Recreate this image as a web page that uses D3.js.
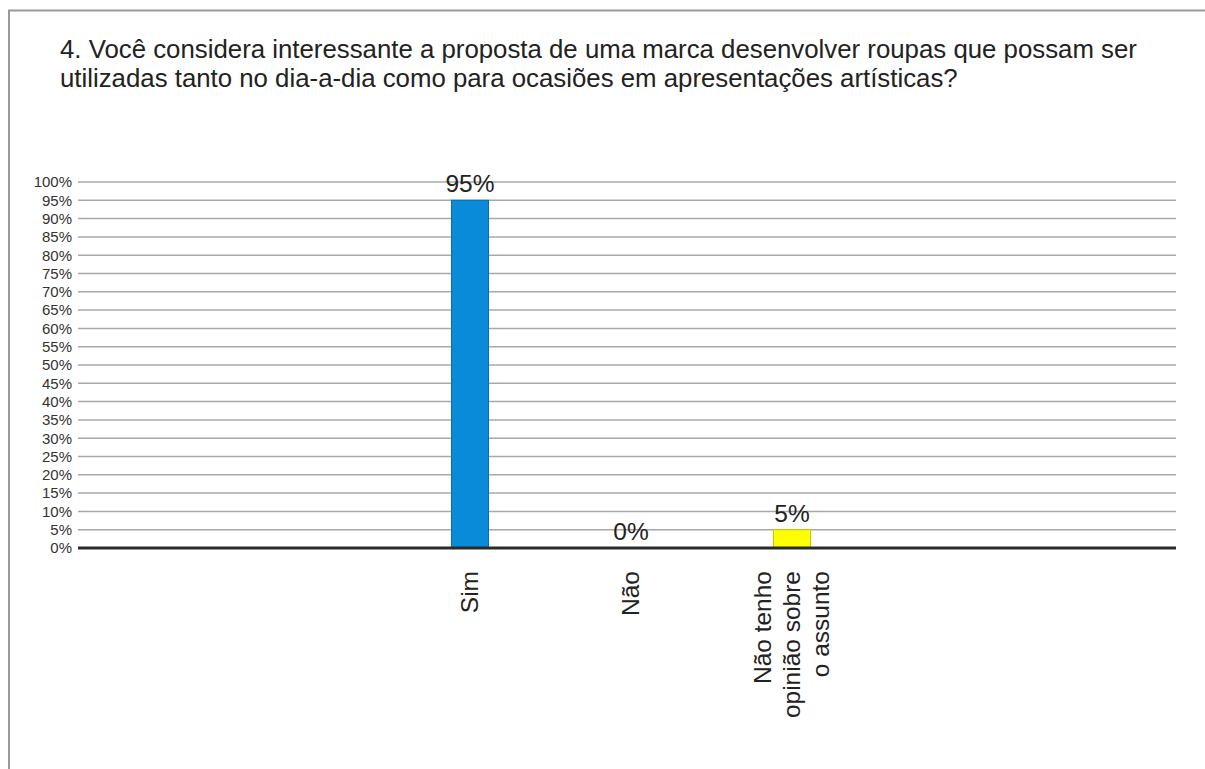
<!DOCTYPE html>
<html lang="pt">
	<head>
		<meta charset="utf-8">
		<title>Pergunta 4</title>
		<script type="text/javascript" src="https://cdn.jsdelivr.net/npm/d3@7"></script>
		<style type="text/css">
		body{
			margin: 0;
			background-color: #ffffff;
		}
		svg{
			display: block;
			font-family: "Liberation Sans", Arial, sans-serif;
		}
		</style>
	</head>
	<body>
		<div id="chart"></div>
		<script type="text/javascript">

			// dados
			var titleLines = ["4. Você considera interessante a proposta de uma marca desenvolver roupas que possam ser",
							  "utilizadas tanto no dia-a-dia como para ocasiões em apresentações artísticas?"];
			var categories = ["Sim", "Não", "Não tenho\nopinião sobre\no assunto"];
			var values = [0.95, 0, 0.05];
			var barColors = ["#0a8bd9", "#ffffff", "#ffff00"];
			var tickValues = d3.range(0, 1.0001, 0.05);

			var w = 1205;
			var h = 769;

			var svg = d3.select("#chart")
						.append("svg")
						.attr("width", w)
						.attr("height", h);

			// moldura (só topo e esquerda aparecem)
			svg.append("path")
			   .attr("d", "M9," + h + "V10.5H" + w)
			   .attr("fill", "none")
			   .attr("stroke", "#9a9a9a")
			   .attr("stroke-width", 2);

			// título
			svg.append("text")
			   .attr("x", 60)
			   .attr("y", 58)
			   .attr("font-size", "25.8px")
			   .attr("fill", "#222")
			   .selectAll("tspan")
			   .data(titleLines)
			   .enter()
			   .append("tspan")
			   .attr("x", 60)
			   .attr("dy", function(d, i) { return i === 0 ? 0 : 29; })
			   .text(function(d) { return d; });

			var left = 78, right = 1176;

			var y = d3.scaleLinear()
					  .domain([0, 1])
					  .range([548, 182]);

			var x = d3.scalePoint()
					  .domain(categories)
					  .range([470, 792]);

			var barWidth = 37;

			// grade
			svg.selectAll("line.grid")
			   .data(tickValues.slice(1))
			   .enter()
			   .append("line")
			   .attr("class", "grid")
			   .attr("x1", left)
			   .attr("x2", right)
			   .attr("y1", function(d) { return y(d); })
			   .attr("y2", function(d) { return y(d); })
			   .attr("stroke", "#a8a8a8")
			   .attr("stroke-width", 1.5);

			// eixo y
			var yAxis = d3.axisLeft(y)
						  .tickValues(tickValues)
						  .tickFormat(d3.format(".0%"))
						  .tickSize(0)
						  .tickPadding(6);

			svg.append("g")
			   .attr("transform", "translate(" + left + ",0)")
			   .call(yAxis)
			   .call(function(g) { g.select(".domain").remove(); })
			   .selectAll("text")
			   .attr("font-family", "Liberation Sans, Arial, sans-serif")
			   .attr("font-size", "15px")
			   .attr("fill", "#333");

			// barras
			svg.selectAll("rect.bar")
			   .data(values)
			   .enter()
			   .filter(function(d) { return d > 0; })
			   .append("rect")
			   .attr("class", "bar")
			   .attr("x", function(d) { return x(categories[values.indexOf(d)]) - barWidth / 2; })
			   .attr("y", function(d) { return y(d); })
			   .attr("width", barWidth)
			   .attr("height", function(d) { return y(0) - y(d); })
			   .attr("fill", function(d) { return barColors[values.indexOf(d)]; })
			   .attr("stroke", function(d) { return d3.color(barColors[values.indexOf(d)]).darker(0.7); })
			   .attr("stroke-width", 1);

			// linha do zero
			svg.append("line")
			   .attr("x1", left)
			   .attr("x2", right)
			   .attr("y1", y(0))
			   .attr("y2", y(0))
			   .attr("stroke", "#2a2a2a")
			   .attr("stroke-width", 3);

			// rótulos de valor
			svg.selectAll("text.value")
			   .data(values)
			   .enter()
			   .append("text")
			   .attr("class", "value")
			   .attr("x", function(d, i) { return x(categories[i]); })
			   .attr("y", function(d) { return y(d) - 8; })
			   .attr("text-anchor", "middle")
			   .attr("font-size", "24.5px")
			   .attr("fill", "#222")
			   .text(function(d) { return d3.format(".0%")(d); });

			// rótulos das categorias (rotacionados)
			var cat = svg.selectAll("g.cat")
						 .data(categories)
						 .enter()
						 .append("g")
						 .attr("class", "cat")
						 .attr("transform", function(d) { return "translate(" + x(d) + ",571) rotate(-90)"; });

			cat.append("text")
			   .attr("text-anchor", "end")
			   .attr("font-size", "24.5px")
			   .attr("fill", "#222")
			   .each(function(d) {
			   		var lines = d.split("\n");
			   		d3.select(this).selectAll("tspan")
			   		  .data(lines)
			   		  .enter()
			   		  .append("tspan")
			   		  .attr("x", 0)
			   		  .attr("y", function(l, i) { return (i - (lines.length - 1) / 2) * 29 + 8; })
			   		  .text(function(l) { return l; });
			   });

		</script>
	</body>
</html>
